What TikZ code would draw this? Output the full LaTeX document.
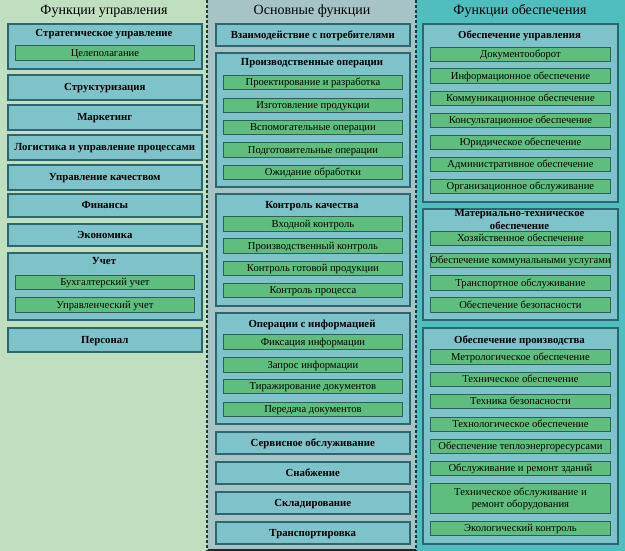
\documentclass[tikz,border=0pt]{standalone}
\usepackage{fontspec}
\setmainfont{Liberation Serif}
\definecolor{bgL}{HTML}{C0DEC0}
\definecolor{bgM}{HTML}{A6C4C6}
\definecolor{bgR}{HTML}{50BEBE}
\definecolor{boxfill}{HTML}{7EC2CA}
\definecolor{boxline}{HTML}{2E6670}
\definecolor{gfill}{HTML}{5FBE7D}
\definecolor{gline}{HTML}{2F5F5A}
\definecolor{divline}{HTML}{1E3A40}
\newcommand\Rb[7]{\node[#2,anchor=north west,minimum width=#5pt-#3pt,minimum height=#6pt-#4pt] (#1) at (#3,#4) {#7};}
\begin{document}
\begin{tikzpicture}[x=1pt,y=-1pt,
  cbox/.style={draw=boxline,fill=boxfill,line width=1.6pt,inner sep=0pt,text height=8.2pt,text depth=1.2pt,font=\fontsize{10.8}{12}\selectfont\bfseries},
  gbox/.style={draw=gline,fill=gfill,line width=0.9pt,inner sep=0pt,text height=8.2pt,text depth=1.2pt,font=\fontsize{10.6}{12}\selectfont},
  gbox2/.style={draw=gline,fill=gfill,line width=0.9pt,inner sep=0pt,font=\fontsize{10.6}{12}\selectfont,align=center},
  ctitle/.style={inner sep=0pt,text height=7.2pt,text depth=2pt,font=\fontsize{10.8}{12}\selectfont\bfseries},
  ctitle2/.style={inner sep=0pt,font=\fontsize{10.8}{13}\selectfont\bfseries,align=center},
  coltitle/.style={inner sep=0pt,text height=9pt,text depth=3pt,font=\fontsize{14}{15}\selectfont},
  divider/.style={draw=divline,line width=1.5pt,dash pattern=on 3pt off 2pt}]
\useasboundingbox (0,0) rectangle (625,551);
% backgrounds
\fill[bgL] (0,0) rectangle (207,551);
\fill[bgM] (207,0) rectangle (416,551);
\fill[bgR] (416,0) rectangle (625,551);
\coordinate (d1t) at (207,0); \coordinate (d1b) at (207,551);
\coordinate (d2t) at (416,0); \coordinate (d2b) at (416,551);
\draw[divider] (d1t) -- (d1b);
\draw[divider] (d2t) -- (d2b);
\coordinate (bl) at (208,550); \coordinate (br) at (416,550);
\draw[line width=1.5pt,draw=black!85] (bl) -- (br);
% column titles
\node[coltitle] (tL) at (104,12) {Функции управления};
\node[coltitle] (tM) at (312,12) {Основные функции};
\node[coltitle] (tR) at (520,12) {Функции обеспечения};
% ===== left column
\Rb{L1}{cbox}{7}{23}{201}{68}{}
\node[ctitle] (L1t) at (104,34) {Стратегическое управление};
\Rb{L1a}{gbox}{15}{45}{194}{60}{Целеполагание}
\Rb{L2}{cbox}{7}{74}{201}{99}{Структуризация}
\Rb{L3}{cbox}{7}{104}{201}{129}{Маркетинг}
\Rb{L4}{cbox}{7}{134}{201}{159}{Логистика и управление процессами}
\Rb{L5}{cbox}{7}{164}{201}{189}{Управление качеством}
\Rb{L6}{cbox}{7}{193}{201}{216}{Финансы}
\Rb{L7}{cbox}{7}{223}{201}{245}{Экономика}
\Rb{L8}{cbox}{7}{252}{201}{319}{}
\node[ctitle] (L8t) at (104,262) {Учет};
\Rb{L8a}{gbox}{15}{275}{194}{289}{Бухгалтерский учет}
\Rb{L8b}{gbox}{15}{297}{194}{312}{Управленческий учет}
\Rb{L9}{cbox}{7}{327}{201}{351}{Персонал}
% ===== middle column
\Rb{M1}{cbox}{215}{23}{409}{45}{Взаимодействие с потребителями}
\Rb{M2}{cbox}{215}{52}{409}{186}{}
\node[ctitle] (M2t) at (312,63) {Производственные операции};
\Rb{M2a}{gbox}{223}{75}{402}{89}{Проектирование и разработка}
\Rb{M2b}{gbox}{223}{98}{402}{112}{Изготовление продукции}
\Rb{M2c}{gbox}{223}{120}{402}{134}{Вспомогательные операции}
\Rb{M2d}{gbox}{223}{142}{402}{157}{Подготовительные операции}
\Rb{M2e}{gbox}{223}{165}{402}{179}{Ожидание обработки}
\Rb{M3}{cbox}{215}{193}{409}{305}{}
\node[ctitle] (M3t) at (312,206) {Контроль качества};
\Rb{M3a}{gbox}{223}{216}{402}{231}{Входной контроль}
\Rb{M3b}{gbox}{223}{238}{402}{253}{Производственный контроль}
\Rb{M3c}{gbox}{223}{261}{402}{275}{Контроль готовой продукции}
\Rb{M3d}{gbox}{223}{283}{402}{297}{Контроль процесса}
\Rb{M4}{cbox}{215}{312}{409}{423}{}
\node[ctitle] (M4t) at (312,325) {Операции с информацией};
\Rb{M4a}{gbox}{223}{334}{402}{349}{Фиксация информации}
\Rb{M4b}{gbox}{223}{357}{402}{372}{Запрос информации}
\Rb{M4c}{gbox}{223}{379}{402}{393}{Тиражирование документов}
\Rb{M4d}{gbox}{223}{402}{402}{416}{Передача документов}
\Rb{M5}{cbox}{215}{431}{409}{453}{Сервисное обслуживание}
\Rb{M6}{cbox}{215}{461}{409}{483}{Снабжение}
\Rb{M7}{cbox}{215}{491}{409}{513}{Складирование}
\Rb{M8}{cbox}{215}{521}{409}{543}{Транспортировка}
% ===== right column
\Rb{R1}{cbox}{422}{23}{617}{201}{}
\node[ctitle] (R1t) at (519.5,36) {Обеспечение управления};
\Rb{R1a}{gbox}{430}{47}{610}{61}{Документооборот}
\Rb{R1b}{gbox}{430}{68}{610}{83}{Информационное обеспечение}
\Rb{R1c}{gbox}{430}{91}{610}{105}{Коммуникационное обеспечение}
\Rb{R1d}{gbox}{430}{113}{610}{127}{Консультационное обеспечение}
\Rb{R1e}{gbox}{430}{135}{610}{149}{Юридическое обеспечение}
\Rb{R1f}{gbox}{430}{157}{610}{171}{Административное обеспечение}
\Rb{R1g}{gbox}{430}{179}{610}{193}{Организационное обслуживание}
\Rb{R2}{cbox}{422}{208}{617}{319}{}
\node[ctitle2] (R2t) at (519.5,220) {Материально-техническое\\обеспечение};
\Rb{R2a}{gbox}{430}{231}{610}{245}{Хозяйственное обеспечение}
\Rb{R2b}{gbox}{430}{253}{610}{267}{Обеспечение коммунальными услугами}
\Rb{R2c}{gbox}{430}{275}{610}{290}{Транспортное обслуживание}
\Rb{R2d}{gbox}{430}{297}{610}{312}{Обеспечение безопасности}
\Rb{R3}{cbox}{422}{327}{617}{543}{}
\node[ctitle] (R3t) at (519.5,341) {Обеспечение производства};
\Rb{R3a}{gbox}{430}{349}{610}{364}{Метрологическое обеспечение}
\Rb{R3b}{gbox}{430}{372}{610}{386}{Техническое обеспечение}
\Rb{R3c}{gbox}{430}{394}{610}{408}{Техника безопасности}
\Rb{R3d}{gbox}{430}{417}{610}{431}{Технологическое обеспечение}
\Rb{R3e}{gbox}{430}{439}{610}{453}{Обеспечение теплоэнергоресурсами}
\Rb{R3f}{gbox}{430}{461}{610}{475}{Обслуживание и ремонт зданий}
\Rb{R3g}{gbox2}{430}{483}{610}{513}{Техническое обслуживание и\\ремонт оборудования}
\Rb{R3h}{gbox}{430}{521}{610}{535}{Экологический контроль}
\end{tikzpicture}
\end{document}
